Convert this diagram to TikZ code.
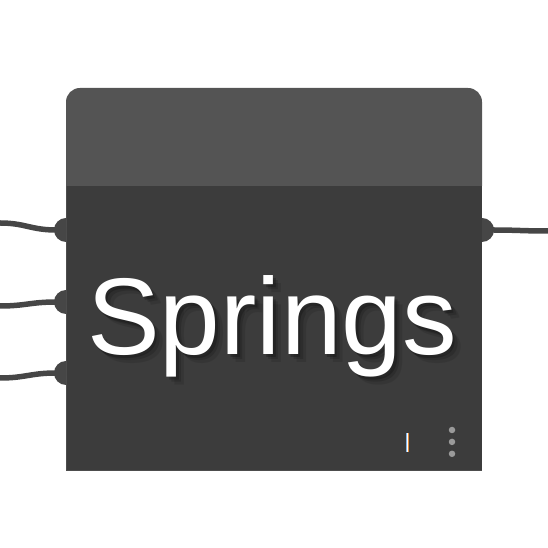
\documentclass[tikz,border=0pt]{standalone}
\usepackage{fontspec}
\setsansfont{Liberation Sans}
\usetikzlibrary{positioning, calc}
\definecolor{headgray}{HTML}{545454}
\definecolor{bodygray}{HTML}{3C3C3C}
\definecolor{wiregray}{HTML}{464646}
\definecolor{dotgray}{HTML}{9A9A9A}
\definecolor{tickorange}{HTML}{E08A3C}
\definecolor{tickblue}{HTML}{7FB3E6}
\begin{document}
\begin{tikzpicture}[x=1pt, y=1pt,
    wire/.style={draw=wiregray, line width=5.5pt},
    port/.style={fill=wiregray},
    title/.style={font=\sffamily\fontsize{109}{109}\selectfont, anchor=base west, inner sep=0pt},
    dot/.style={circle, fill=dotgray, inner sep=0pt, minimum size=6.5pt}]
  \useasboundingbox (0,0) rectangle (548,548);

  % node body and header
  \fill[bodygray] (66,77) rectangle (482,362);
  \draw[headgray!70!bodygray, line width=0.8pt] (66.4,77) -- (66.4,362);
  \draw[headgray!70!bodygray, line width=0.8pt] (66,77.4) -- (482,77.4);
  \fill[headgray, rounded corners=14pt] (66,362) -- (66,460) -- (482,460) -- (482,362);

  % ports
  \coordinate (in1) at (66,318);
  \coordinate (in2) at (66,246);
  \coordinate (in3) at (66,175);
  \coordinate (out1) at (482,318);
  \coordinate (free1) at (0,325);
  \coordinate (free2) at (0,242);
  \coordinate (free3) at (0,170);
  \coordinate (free4) at (548,317);

  \draw[wire] (in1) -- ++(-10,0) .. controls +(-25,0) and (25,325) .. (free1);
  \draw[wire] (in2) -- ++(-10,0) .. controls +(-25,0) and (25,242) .. (free2);
  \draw[wire] (in3) -- ++(-10,0) .. controls +(-25,0) and (25,170) .. (free3);
  \draw[wire] (out1) -- ++(10,0) .. controls +(25,0) and (523,317) .. (free4);

  \foreach \p in {in1,in2,in3}
    \fill[port] ($(\p)+(0,12)$) arc (90:270:12) -- cycle;
  \fill[port] ($(out1)+(0,12)$) arc (90:-90:12) -- cycle;

  % title with shadow
  \foreach \o/\a in {8/0.1,5/0.15,2.5/0.22}
    \node[title, text=black, opacity=\a] at (87+\o,193-\o) {Springs};
  \node[title, text=white] (name) at (87,193) {Springs};

  % status marks
  \fill[white] (406,96) rectangle (408.5,115);
  \fill[tickblue] (405.5,96) rectangle (406.3,115);
  \fill[tickorange] (408.3,96) rectangle (409.3,115);
  \node[dot] (d1) at (452,118) {};
  \node[dot, below=5pt of d1] (d2) {};
  \node[dot, below=5pt of d2] (d3) {};
\end{tikzpicture}
\end{document}
